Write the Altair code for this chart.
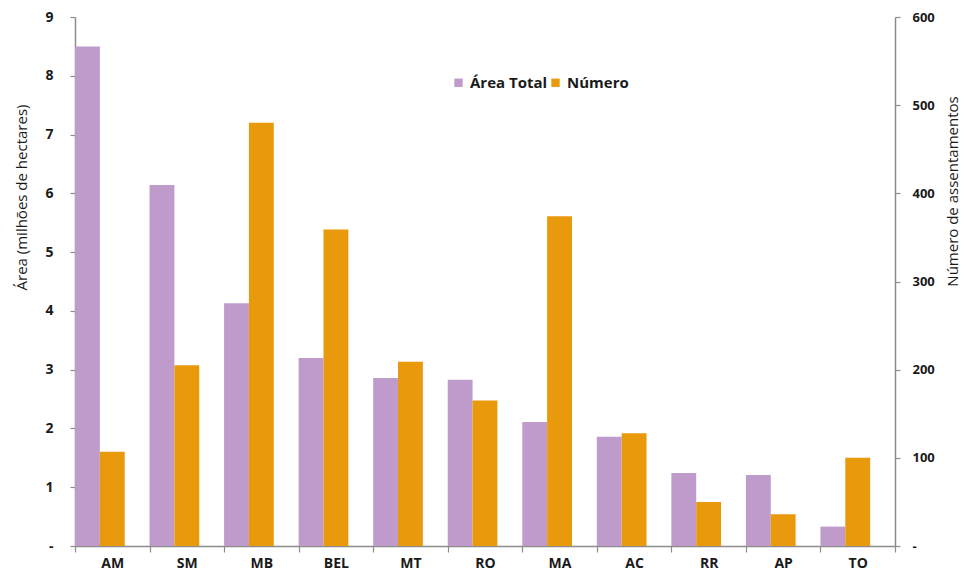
import altair as alt
import pandas as pd

categorias = ["AM", "SM", "MB", "BEL", "MT", "RO", "MA", "AC", "RR", "AP", "TO"]
area_total = [8.50, 6.14, 4.13, 3.20, 2.86, 2.83, 2.11, 1.86, 1.24, 1.21, 0.33]
numero = [107, 205, 480, 359, 209, 165, 374, 128, 50, 36, 100]

series = ["Área Total", "Número"]
cores = ["#BE9BCB", "#E8990C"]

df_area = pd.DataFrame({"cat": categorias, "serie": series[0], "valor": area_total})
df_num = pd.DataFrame({"cat": categorias, "serie": series[1], "valor": numero})

FONT = "Open Sans"
TXT = "#1a1a1a"
AXC = "#8c8c8c"

x_enc = alt.X(
    "cat:N",
    sort=categorias,
    scale=alt.Scale(paddingInner=0, paddingOuter=0),
    axis=alt.Axis(
        title=None, labelAngle=0, tickBand="extent", labelFont=FONT,
        labelFontSize=14, labelFontWeight="bold", labelColor=TXT,
        labelPadding=4, tickSize=6, domainColor=AXC, tickColor=AXC,
        domainWidth=1.5, tickWidth=1.2, grid=False,
    ),
)
xoff = alt.XOffset(
    "serie:N",
    scale=alt.Scale(domain=series + ["_"], paddingInner=0, paddingOuter=0),
)
color = alt.Color(
    "serie:N",
    scale=alt.Scale(domain=series, range=cores),
    legend=alt.Legend(
        title=None, orient="none", direction="horizontal", legendX=376, legendY=58,
        symbolType="square", symbolSize=70, symbolStrokeWidth=0,
        labelFont=FONT, labelFontSize=15, labelFontWeight="bold", labelColor=TXT,
        columnPadding=0, labelOffset=4,
    ),
)

left = alt.Chart(df_area).mark_bar().encode(
    x=x_enc,
    xOffset=xoff,
    color=color,
    y=alt.Y(
        "valor:Q",
        scale=alt.Scale(domain=[0, 9], nice=False),
        axis=alt.Axis(
            title="Área (milhões de hectares)", orient="left", values=list(range(0, 10)),
            labelExpr="datum.value == 0 ? '-' : datum.label",
            labelFont=FONT, labelFontSize=14, labelFontWeight="bold", labelColor=TXT,
            labelPadding=17, tickSize=5, domainColor=AXC, tickColor=AXC,
            domainWidth=1.5, tickWidth=1.2, grid=False,
            titleFont=FONT, titleFontSize=15, titleFontWeight=500, titleColor=TXT,
            titlePadding=15, titleY=180,
        ),
    ),
)

right = alt.Chart(df_num).mark_bar().encode(
    x=x_enc,
    xOffset=xoff,
    color=color,
    y=alt.Y(
        "valor:Q",
        scale=alt.Scale(domain=[0, 600], nice=False),
        axis=alt.Axis(
            title="Número de assentamentos", orient="right", values=list(range(0, 700, 100)),
            labelExpr="datum.value == 0 ? '-' : datum.label",
            labelFont=FONT, labelFontSize=13, labelFontWeight="bold", labelColor=TXT,
            labelPadding=12, tickSize=5, domainColor=AXC, tickColor=AXC,
            domainWidth=1.5, tickWidth=1.2, grid=False,
            titleFont=FONT, titleFontSize=15, titleFontWeight=500, titleColor=TXT,
            titleAngle=270, titlePadding=26, titleY=174,
        ),
    ),
)

chart = (
    alt.layer(left, right)
    .resolve_scale(y="independent", color="shared")
    .properties(
        width=820, height=529,
        autosize=alt.AutoSizeParams(type="none"),
        padding={"left": 75, "top": 17, "right": 73, "bottom": 31},
        background="white",
    )
    .configure_view(stroke=None)
)

chart.save("out.html", embed_options={"renderer": "svg", "actions": False})
